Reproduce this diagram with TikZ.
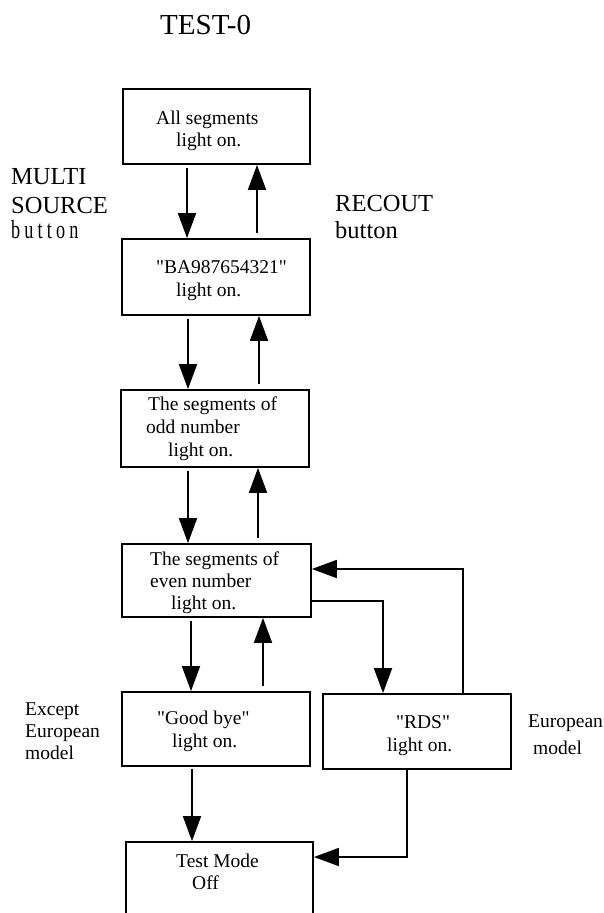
\documentclass[tikz,border=0pt]{standalone}
\usepackage{fontspec}
\setmainfont{Liberation Serif}[Ligatures=TeXOff]
\newfontfamily\btnfont[FakeStretch=0.7,LetterSpace=16,Ligatures=TeXOff]{Liberation Serif}
\usetikzlibrary{arrows.meta}
\begin{document}
\begin{tikzpicture}[x=1pt,y=-1pt,
  box/.style={draw,line width=1.8pt,inner sep=0pt},
  arr/.style={line width=1.8pt,-{Triangle[length=25pt,width=18pt]}},
  txt/.style={inner sep=0pt,anchor=base west,font=\fontsize{19.5}{22}\selectfont},
  big/.style={inner sep=0pt,anchor=base west,font=\fontsize{24.5}{28}\selectfont}]
\useasboundingbox (0,0) rectangle (603,913);
\clip (0,0) rectangle (603,913);
% boxes
\node[box,minimum width=187pt,minimum height=75pt] (b1) at (216.5,126.5) {};
\node[box,minimum width=188pt,minimum height=76pt] (b2) at (216,277) {};
\node[box,minimum width=188pt,minimum height=77pt] (b3) at (215,428.5) {};
\node[box,minimum width=189pt,minimum height=73pt] (b4) at (216.5,580.5) {};
\node[box,minimum width=188pt,minimum height=74pt] (b5) at (216,729) {};
\node[box,minimum width=188pt,minimum height=75pt] (b6) at (417,731.5) {};
\node[box,minimum width=187pt,minimum height=98pt] (b7) at (219.5,891) {};
% helper coordinates
\coordinate (d1) at (187,0); \coordinate (u1) at (257,0);
\coordinate (d2) at (188,0); \coordinate (u2) at (259,0);
\coordinate (d3) at (188,0); \coordinate (u3) at (258,0);
\coordinate (d4) at (191,0); \coordinate (u4) at (263,0);
\coordinate (d5) at (192,0);
\coordinate (h1) at (0,601); \coordinate (v1) at (383,0);
\coordinate (h2) at (0,569); \coordinate (v2) at (463,0);
\coordinate (h3) at (0,857); \coordinate (v3) at (407,0);
% vertical arrows
\draw[arr,shorten <=3pt] (b1.south -| d1) -- (b2.north -| d1);
\draw[arr,shorten <=5pt] (b2.north -| u1) -- (b1.south -| u1);
\draw[arr,shorten <=3pt] (b2.south -| d2) -- (b3.north -| d2);
\draw[arr,shorten <=5pt] (b3.north -| u2) -- (b2.south -| u2);
\draw[arr,shorten <=3pt] (b3.south -| d3) -- (b4.north -| d3);
\draw[arr,shorten <=5pt] (b4.north -| u3) -- (b3.south -| u3);
\draw[arr,shorten <=3pt] (b4.south -| d4) -- (b5.north -| d4);
\draw[arr,shorten <=5pt] (b5.north -| u4) -- (b4.south -| u4);
\draw[arr,shorten <=2pt] (b5.south -| d5) -- (b7.north -| d5);
% side connectors
\draw[arr] (b4.east |- h1) -| (b6.north -| v1);
\draw[arr] (b6.north -| v2) |- (b4.east |- h2);
\draw[arr] (b6.south -| v3) |- (b7.east |- h3);
% texts
\node[inner sep=0pt,anchor=base west,font=\fontsize{29}{32}\selectfont] (title) at (160,34) {TEST-0};
\node[big] (m1) at (11,184) {MULTI};
\node[big] (m2) at (11,213) {SOURCE};
\node[inner sep=0pt,anchor=base west,font=\fontsize{26}{28}\btnfont] (m3) at (11,238) {button};
\node[big] (r1) at (335,211) {RECOUT};
\node[big] (r2) at (335,238) {button};
\node[txt] (t1a) at (156,124) {All segments};
\node[txt] (t1b) at (176,146) {light on.};
\node[txt] (t2a) at (156,273) {"BA987654321"};
\node[txt] (t2b) at (176,296) {light on.};
\node[txt] (t3a) at (148,410) {The segments of};
\node[txt] (t3b) at (146,433) {odd number};
\node[txt] (t3c) at (168,456) {light on.};
\node[txt] (t4a) at (150,565) {The segments of};
\node[txt] (t4b) at (150,587) {even number};
\node[txt] (t4c) at (171,609) {light on.};
\node[txt] (t5a) at (157,724) {"Good bye"};
\node[txt] (t5b) at (172,747) {light on.};
\node[txt] (t6a) at (396,728) {"RDS"};
\node[txt] (t6b) at (387,751) {light on.};
\node[txt] (e1) at (25,715) {Except};
\node[txt] (e2) at (25,737) {European};
\node[txt] (e3) at (25,759) {model};
\node[txt] (f1) at (528,727) {European};
\node[txt] (f2) at (533,754) {model};
\node[txt] (t7a) at (176,867) {Test Mode};
\node[txt] (t7b) at (192,889) {Off};
\end{tikzpicture}
\end{document}
